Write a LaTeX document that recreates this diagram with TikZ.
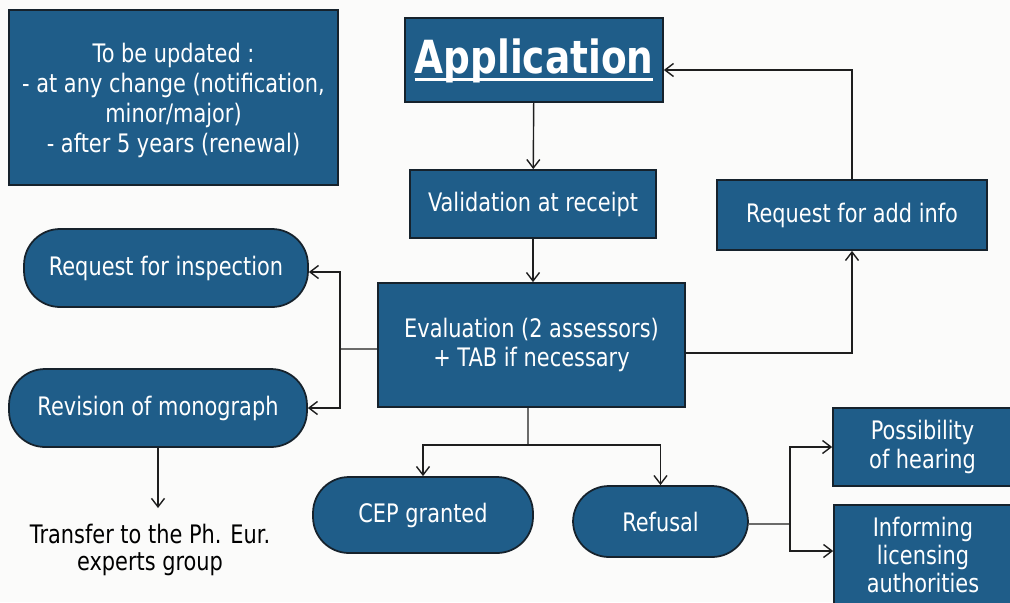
\documentclass[tikz,border=0pt]{standalone}
\usepackage{fontspec}
\setmainfont{DejaVu Sans}[FakeStretch=0.82]
\usepackage{xcolor}
\usepackage{tikz}
\usetikzlibrary{arrows.meta}
\definecolor{cepblue}{HTML}{1F5D89}
\definecolor{cepedge}{HTML}{16222C}
\definecolor{linkgray}{HTML}{1E1E1E}
\definecolor{paper}{HTML}{FBFBFA}
\newcommand\thickul[1]{\vtop{\hbox{#1}\kern-2.7pt\hrule height 1.8pt}}
\tikzset{
  box/.style={rectangle, fill=cepblue, draw=cepedge, line width=1pt, text=white,
    font=\fontsize{14.5}{16}\selectfont, align=center, inner sep=0pt},
  pill/.style={box, rounded corners=0.72cm},
  link/.style={draw=linkgray, line width=0.8pt},
  arr/.style={link, -{Straight Barb[length=1.7mm, width=2.6mm]}},
}

\begin{document}
\begin{tikzpicture}[x=0.02cm, y=-0.02cm]

  \useasboundingbox (0,0) rectangle (1010,602);
  \clip (0,0) rectangle (1010,602);
  \fill[paper] (0,0) rectangle (1010,602);

  % boxes
  \node[box, minimum width=6.58cm, minimum height=3.5cm,
        font=\fontsize{14.5}{17}\selectfont] (upd) at (173.5,97.5)
        {\\[-0.1cm]To be updated :\\- at any change (notification,\\minor/major)\\- after 5 years (renewal)};
  \node[box, minimum width=5.16cm, minimum height=1.68cm,
        font=\fontsize{26}{30}\bfseries] (app) at (534,60) {\thickul{Application}};
  \node[box, minimum width=4.92cm, minimum height=1.36cm] (valid) at (533,204) {Validation at receipt};
  \node[box, minimum width=5.4cm, minimum height=1.4cm] (addinfo) at (852,215) {Request for add info};
  \node[box, minimum width=6.14cm, minimum height=2.48cm] (eval) at (531.5,345)
        {Evaluation (2 assessors)\\+ TAB if necessary};
  \node[pill, minimum width=5.68cm, minimum height=1.56cm] (insp) at (166,268) {Request for inspection};
  \node[pill, minimum width=5.96cm, minimum height=1.56cm] (revis) at (158,408) {Revision of monograph};
  \node[pill, minimum width=4.4cm, minimum height=1.52cm] (cep) at (423,515) {CEP granted};
  \node[pill, minimum width=3.5cm, minimum height=1.42cm] (refus) at (660.5,521.5) {Refusal};
  \node[box, minimum width=3.58cm, minimum height=1.56cm] (hear) at (922.5,447) {Possibility\\of hearing};
  \node[box, minimum width=3.56cm, minimum height=2.0cm] (inform) at (923,555)
        {Informing\\licensing\\authorities};
  \node[font=\fontsize{14.5}{15.5}\selectfont, align=center, inner xsep=0pt, inner ysep=0.31cm,
        anchor=north] (transfer) at (150,508) {Transfer to the Ph. Eur.\\experts group};

  % split points
  \coordinate (lsplit) at (340,349);
  \coordinate (bsplit) at (528,445);
  \coordinate (rsplit) at (790,524);

  % connectors
  \draw[arr] (app) -- (valid);
  \draw[arr] (valid.south) -- (valid.south |- eval.north);
  \draw[arr] ([yshift=-0.16cm]eval.east) -| (addinfo.south);
  \draw[arr] (addinfo.north) |- ([yshift=-0.2cm]app.east);
  \draw[link] ([yshift=-0.08cm]eval.west) -- (lsplit);
  \draw[arr] (lsplit) |- ([yshift=-0.08cm]insp.east);
  \draw[arr] (lsplit) |- (revis.east);
  \draw[link] ([xshift=-0.07cm]eval.south) -- (bsplit);
  \draw[arr] (bsplit) -| (cep.north);
  \draw[arr] (bsplit) -| (refus.north);
  \draw[link] ([yshift=-0.05cm]refus.east) -- (rsplit);
  \draw[arr] (rsplit) |- (hear.west);
  \draw[arr] (rsplit) |- ([yshift=0.08cm]inform.west);
  \draw[arr] (revis.south) -- (revis.south |- transfer.north);

\end{tikzpicture}
\end{document}
